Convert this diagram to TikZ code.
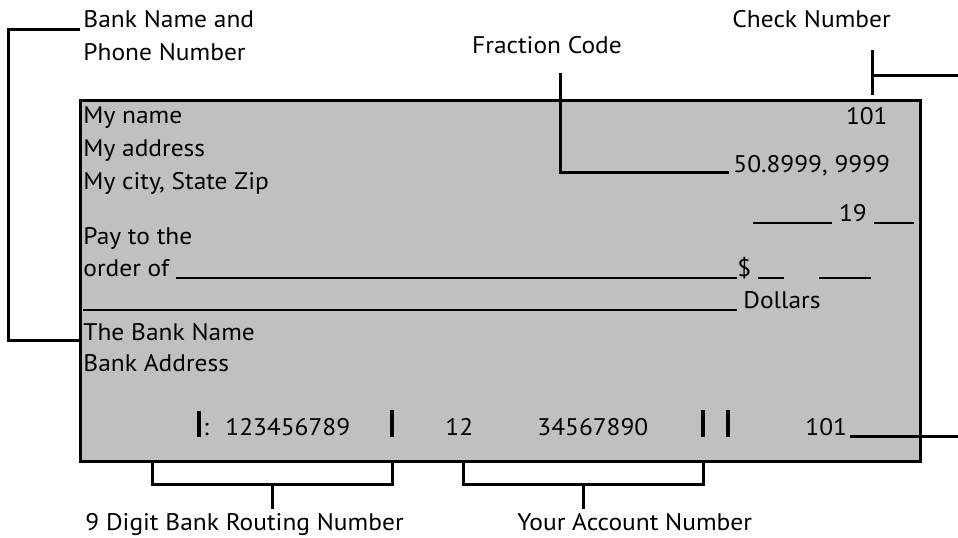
\documentclass[tikz,border=0pt]{standalone}
\usepackage{fontspec}
\setmainfont{PT Sans}[FakeStretch=1.06]
\usetikzlibrary{calc}
\definecolor{checkgray}{RGB}{192,192,192}
\newcommand{\blank}[1]{\rule[-1.4pt]{#1}{0.8pt}}
\newcommand{\blankfill}{\leaders\hrule height -0.6pt depth 1.4pt\hskip 0pt plus 1fill}
\tikzset{
  checkbox/.style={
    draw, line width=1.5pt, fill=checkgray,
    anchor=north west, inner sep=0pt
  },
  field/.style={
    anchor=base west, inner sep=0pt,
    font=\fontsize{12}{14}\selectfont
  },
  label/.style={field},
  conn/.style={line width=1.5pt},
  micrbar/.style={line width=1.6pt}
}

\begin{document}
\begin{tikzpicture}[x=0.5pt, y=-0.5pt]
  \useasboundingbox (0,0) rectangle (958,537);
  \node[checkbox, minimum width=420pt, minimum height=180.5pt] (check) at (79,99) {};

  % owner block
  \node[field] (name) at (83,123) {My name};
  \node[field] (addr) at (83,156) {My address};
  \node[field] (city) at (83,189) {My city, State Zip};
  \node[field, anchor=base east] (cknum) at (888,124) {101};
  \node[field] (fraction) at (733,172) {50.8999, 9999};
  \node[field, anchor=base east] (date) at (914,221) {\blank{39.5pt}\ 19\ \blank{20pt}};

  % payee and amount
  \node[field] (payto) at (83,244) {Pay to the};
  \node[field] (order) at (83,276) {\makebox[327pt][l]{order of \blankfill}\$\ \blank{13pt}\hspace{17.5pt}\blank{26pt}};
  \node[field] (words) at (83,308) {\makebox[327pt][l]{\blankfill}\hspace{3pt}Dollars};
  \node[field] (bankname) at (83,340) {The Bank Name};
  \node[field] (bankaddr) at (83,371) {Bank Address};

  % MICR line
  \draw[micrbar] (199,411) -- (199,437);
  \node[field] (colon) at (203,435) {:};
  \node[field] (routing) at (225,435) {123456789};
  \draw[micrbar] (392,410) -- (392,437);
  \node[field] (transit) at (445,435) {12};
  \node[field] (account) at (537,435) {34567890};
  \draw[micrbar] (703,410) -- (703,437);
  \draw[micrbar] (728,410) -- (728,437);
  \node[field] (micrck) at (805,435) {101};

  % labels
  \node[label] (banklbl) at (83,27) {Bank Name and};
  \node[label] (phonelbl) at (83,60) {Phone Number};
  \node[label, anchor=base] (fraclbl) at (547,53) {Fraction Code};
  \node[label] (cklbl) at (732,27) {Check Number};
  \node[label] (rtlbl) at (85,530) {9 Digit Bank Routing Number};
  \node[label] (aclbl) at (517,530) {Your Account Number};

  % connectors
  \coordinate (bankcorner) at (8,340);
  \draw[conn] ([shift={(-3,2)}]banklbl.base west) -| (bankcorner) -- (check.west |- bankcorner);

  \coordinate (fractop) at (560,73);
  \draw[conn] (fractop) |- ([xshift=-2pt]fraction.base west);

  \coordinate (cktick) at (872,50);
  \draw[conn] (cktick) -- ++(0,45);
  \draw[conn] ($(cktick)+(0,25)$) -- ++(90,0);
  \draw[conn] ([shift={(3,1)}]micrck.base east) -- ++(120,0);

  \coordinate (rtL) at (152,460);
  \coordinate (rtR) at (392,460);
  \draw[conn] (rtL) -- ++(0,24) -| (rtR);
  \draw[conn] ($(rtL)!0.5!(rtR)+(0,24)$) -- ++(0,25);

  \coordinate (acL) at (463,460);
  \coordinate (acR) at (703,460);
  \draw[conn] (acL) -- ++(0,24) -| (acR);
  \draw[conn] ($(acL)!0.5!(acR)+(0,24)$) -- ++(0,25);
\end{tikzpicture}
\end{document}
